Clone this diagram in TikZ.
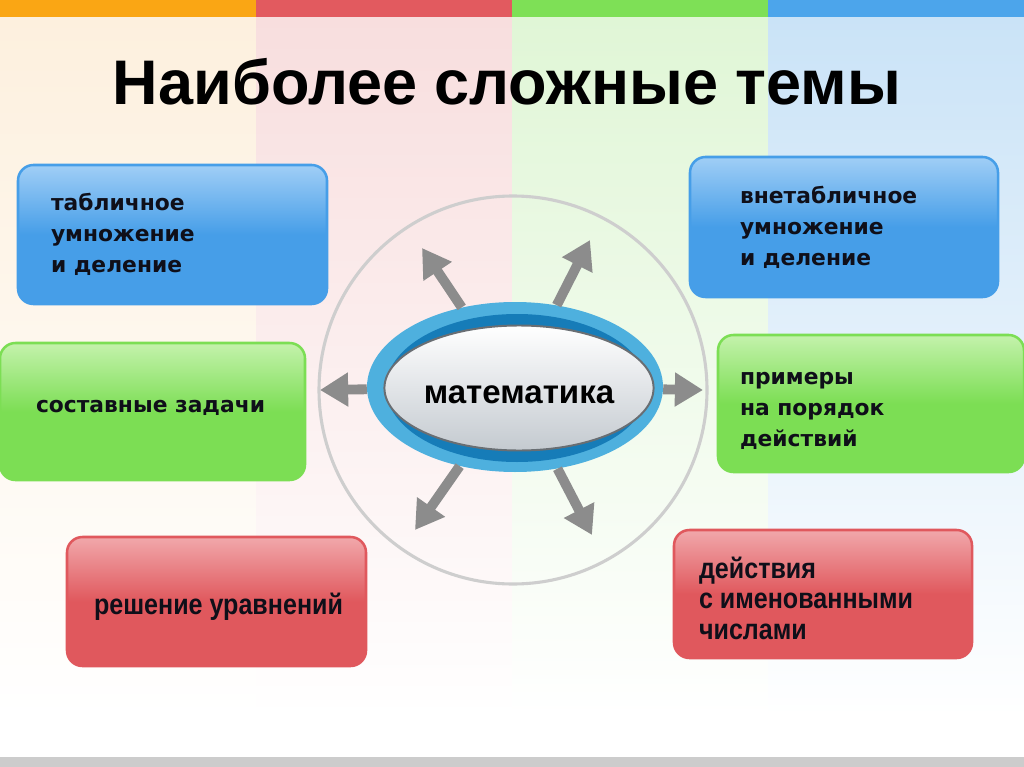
\documentclass[tikz,border=0pt]{standalone}
\usepackage{fontspec}
\setmainfont{Liberation Sans}
\newfontfamily\widefont{DejaVu Sans}
\newfontfamily\narrowfont[FakeStretch=0.87]{Liberation Sans}
\usepackage{tikz}
\usetikzlibrary{arrows.meta,positioning,shapes.geometric}
\definecolor{ink}{RGB}{15,15,25}
\definecolor{barorange}{RGB}{250,166,20}
\definecolor{barred}{RGB}{226,90,95}
\definecolor{bargreen}{RGB}{126,224,86}
\definecolor{barblue}{RGB}{76,165,235}
\definecolor{paleorange}{RGB}{253,240,222}
\definecolor{palered}{RGB}{248,222,222}
\definecolor{palegreen}{RGB}{224,246,214}
\definecolor{paleblue}{RGB}{202,227,247}
\definecolor{boxblue}{RGB}{70,158,232}
\definecolor{boxbluetop}{RGB}{160,206,246}
\definecolor{boxgreen}{RGB}{124,222,84}
\definecolor{boxgreentop}{RGB}{196,242,172}
\definecolor{boxred}{RGB}{224,88,93}
\definecolor{boxredtop}{RGB}{241,168,171}
\definecolor{ringlight}{RGB}{78,176,222}
\definecolor{ringdark}{RGB}{22,124,184}
\definecolor{coregray}{RGB}{196,202,208}
\definecolor{rimgray}{RGB}{105,110,115}
\definecolor{orbitgray}{RGB}{206,206,206}
\definecolor{spokegray}{RGB}{140,140,140}
\definecolor{footgray}{RGB}{204,204,204}
\newlength{\pxu}
\setlength{\pxu}{0.025cm}
\tikzset{
  topic/.style={rounded corners=11pt,line width=1.8pt,inner sep=0pt},
  bluetopic/.style={topic,draw=boxblue,top color=boxbluetop,bottom color=boxblue,middle color=boxblue},
  greentopic/.style={topic,draw=boxgreen,top color=boxgreentop,bottom color=boxgreen,middle color=boxgreen},
  redtopic/.style={topic,draw=boxred,top color=boxredtop,bottom color=boxred,middle color=boxred},
  widetext/.style={anchor=west,align=left,inner sep=0pt,text=ink,font=\widefont\fontsize{15.5}{22}\selectfont\bfseries},
  narrowtext/.style={anchor=west,align=left,inner sep=0pt,text=ink,font=\narrowfont\fontsize{20.5}{21.7}\selectfont\bfseries},
  spoke/.style={-{Triangle[length=20pt,width=23pt]},line width=7pt,draw=spokegray}
}

\begin{document}
\begin{tikzpicture}[x=0.025cm,y=-0.025cm]
  \useasboundingbox (0,0) rectangle (1024,767);
  % coloured columns
  \foreach \hue [count=\i from 0] in {orange,red,green,blue} {
    \shade[top color=pale\hue,middle color=pale\hue!75!white,bottom color=white] (\i*256,17) rectangle ++(256,700);
    \fill[bar\hue] (\i*256,0) rectangle ++(256,17);
  }
  \fill[footgray] (0,757) rectangle (1024,767);
  \node[font=\fontsize{44.8}{54}\selectfont\bfseries,text=black,inner sep=0pt] (heading) at (507,82) {Наиболее сложные темы};

  % topics
  \node[bluetopic,minimum width=309*\pxu,minimum height=139*\pxu] (tabl) at (172.5,234.5) {};
  \node[greentopic,minimum width=305*\pxu,minimum height=137*\pxu] (sost) at (152.5,411.5) {};
  \node[redtopic,minimum width=299*\pxu,minimum height=129*\pxu] (resh) at (216.5,601.5) {};
  \node[bluetopic,minimum width=308*\pxu,minimum height=140*\pxu] (vnet) at (844,227) {};
  \node[greentopic,minimum width=306*\pxu,minimum height=137*\pxu] (prim) at (871,403.5) {};
  \node[redtopic,minimum width=298*\pxu,minimum height=128*\pxu] (deis) at (823,594) {};
  \node[widetext] (tabltext) at ([xshift=34*\pxu]tabl.west) {табличное\\умножение\\и деление};
  \node[widetext] (sosttext) at ([xshift=37*\pxu,yshift=4*\pxu]sost.west) {составные задачи};
  \node[narrowtext] (reshtext) at ([xshift=28*\pxu,yshift=-5*\pxu]resh.west) {решение уравнений};
  \node[widetext] (vnettext) at ([xshift=51*\pxu]vnet.west) {внетабличное\\умножение\\и деление};
  \node[widetext] (primtext) at ([xshift=23*\pxu,yshift=-7*\pxu]prim.west) {примеры\\на порядок\\действий};
  \node[narrowtext] (deistext) at ([xshift=26*\pxu,yshift=-4*\pxu]deis.west) {действия\\с именованными\\числами};

  % centre
  \node[circle,draw=orbitgray,line width=2.2pt,minimum size=388*\pxu] (orbit) at (513,390) {};
  \node[ellipse,fill=ringlight,minimum width=296*\pxu,minimum height=170*\pxu,inner sep=0pt] (math) at (515,387) {};
  \node[ellipse,fill=ringdark,minimum width=262*\pxu,minimum height=148*\pxu,inner sep=0pt] (mathring) at (517,388) {};
  \node[ellipse,draw=rimgray,line width=1.4pt,top color=white,bottom color=coregray,minimum width=228*\pxu,minimum height=125*\pxu,inner sep=0pt,
    text height=22pt,text depth=0pt,font=\fontsize{23.5}{28}\selectfont\bfseries,text=black] (mathcore) at (519,388) {математика};
  \coordinate (tipL) at (320,390);
  \coordinate (tipR) at (703,390);
  \coordinate (tipUL) at (422,248);
  \coordinate (tipUR) at (590,240);
  \coordinate (tipLL) at (415,530);
  \coordinate (tipLR) at (592,535);
  \foreach \tip in {tipL,tipR,tipUL,tipUR,tipLL,tipLR}
    \draw[spoke] (math) -- (\tip);
\end{tikzpicture}
\end{document}
